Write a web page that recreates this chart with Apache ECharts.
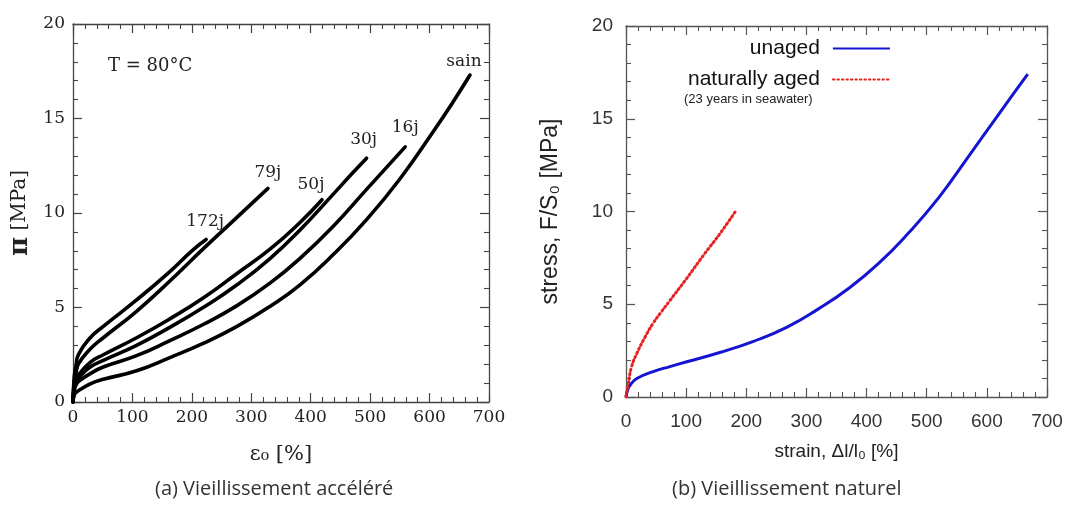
<!DOCTYPE html>
<html><head><meta charset="utf-8">
<script src="https://cdn.jsdelivr.net/npm/echarts@6/dist/echarts.min.js"></script>
<style>html,body{margin:0;padding:0;background:#fff}#c{width:1072px;height:508px}</style>
</head><body><div id="c"></div>
<script>
// ---- data (strain %, stress MPa) ----
const strainAxis = { min: 0, max: 700, interval: 100 };
const stressAxis = { min: 0, max: 20, interval: 5 };

// (a) accelerated ageing at 80°C
const curve172j = [[0,0],[2,1.3],[5,1.9],[9,2.5],[29,3.4],[51,4.0],[107,5.4],[163,6.9],[200,8.0],[224,8.6]];
const curve79j  = [[0,0],[2,1.0],[5,1.5],[9,2.0],[29,2.8],[51,3.4],[107,4.8],[163,6.4],[219,8.1],[270,9.6],[328,11.3]];
const curve50j  = [[0,0],[2,0.8],[5,1.2],[10,1.45],[29,2.1],[51,2.5],[107,3.4],[163,4.4],[219,5.5],[276,6.8],[332,8.1],[382,9.5],[419,10.7]];
const curve30j  = [[0,0],[2,0.7],[5,1.05],[10,1.3],[29,1.85],[51,2.2],[107,3.0],[163,3.95],[219,5.0],[276,6.2],[332,7.6],[382,9.1],[438,11.0],[470,12.1],[494,12.9]];
const curve16j  = [[0,0],[2,0.6],[5,0.9],[10,1.1],[29,1.5],[51,1.85],[107,2.45],[163,3.25],[219,4.1],[276,5.1],[332,6.3],[382,7.6],[438,9.3],[494,11.25],[559,13.5]];
const curveSain = [[0,0],[2,0.35],[5,0.5],[10,0.62],[29,0.96],[51,1.2],[107,1.65],[163,2.35],[219,3.1],[276,4.0],[332,5.07],[382,6.2],[438,7.8],[494,9.65],[550,11.8],[606,14.3],[640,15.9],[668,17.3]];
const curveNamesA = ['172j','79j','50j','30j','16j','sain'];

// (b) natural ageing
const unaged = [[0,0],[3,0.4],[7,0.65],[18,1.0],[45,1.37],[73,1.64],[101,1.9],[156,2.4],[212,3.0],[267,3.75],[320,4.75],[370,5.85],[420,7.2],[470,8.85],[520,10.75],[567,12.85],[622,15.35],[668,17.4]];
const naturallyAged = [[0,0],[4,0.74],[9,1.6],[18,2.35],[32,3.25],[45,3.97],[59,4.6],[73,5.2],[101,6.4],[129,7.65],[156,8.8],[184,10.1]];

// ---- chart ----
const chart = echarts.init(document.getElementById('c'));
const serif = 'DejaVu Serif';
const sans = 'Liberation Sans';

function frameAxis(dim, gridIndex, pos, range, color, showLabel, labelStyle) {
  return {
    type: 'value', gridIndex, position: pos,
    min: range.min, max: range.max, interval: range.interval,
    axisLine: { show: true, onZero: false, lineStyle: { color, width: 1.3 } },
    axisTick: { show: true, inside: true, length: 9, lineStyle: { color, width: 1.2 } },
    minorTick: { show: true, splitNumber: 5, length: 5, lineStyle: { color, width: 1.1 } },
    splitLine: { show: false },
    axisLabel: Object.assign({ show: showLabel }, labelStyle || {})
  };
}

const leftLab = { fontFamily: serif, fontSize: 17, color: '#222' };
const rightLab = { fontFamily: sans, fontSize: 19, color: '#333' };

const xAxes = [
  Object.assign(frameAxis('x', 0, 'bottom', strainAxis, '#444', true, Object.assign({ margin: 7 }, leftLab)), {
    name: 'ε₀ [%]', nameLocation: 'middle', nameGap: 42,
    nameTextStyle: { fontFamily: serif, fontSize: 21, color: '#222' }
  }),
  frameAxis('x', 0, 'top', strainAxis, '#444', false),
  Object.assign(frameAxis('x', 1, 'bottom', strainAxis, '#555', true, Object.assign({ margin: 15 }, rightLab)), {
    name: 'strain, Δl/l₀ [%]', nameLocation: 'middle', nameGap: 45,
    nameTextStyle: { fontFamily: sans, fontSize: 19, color: '#222' }
  }),
  frameAxis('x', 1, 'top', strainAxis, '#555', false)
];
const yAxes = [
  Object.assign(frameAxis('y', 0, 'left', stressAxis, '#444', true, Object.assign({ margin: 8 }, leftLab)), {
    name: '{pi|π} [MPa]', nameLocation: 'middle', nameGap: 40, nameRotate: 90,
    nameTextStyle: { fontFamily: serif, fontSize: 20, color: '#222',
      rich: { pi: { fontFamily: serif, fontSize: 26, fontWeight: 'bold', color: '#222' } } }
  }),
  frameAxis('y', 0, 'right', stressAxis, '#444', false),
  Object.assign(frameAxis('y', 1, 'left', stressAxis, '#555', true, Object.assign({ margin: 13 }, rightLab)), {
    name: 'stress, F/S₀ [MPa]', nameLocation: 'middle', nameGap: 64, nameRotate: 90,
    nameTextStyle: { fontFamily: sans, fontSize: 23, color: '#222' }
  }),
  frameAxis('y', 1, 'right', stressAxis, '#555', false)
];

const labelOffsets = { '172j': [-1, -18], '79j': [0, -16], '50j': [-11, -15], '30j': [-3, -19], '16j': [0, -19], 'sain': [-6, -13] };
const curvesA = [curve172j, curve79j, curve50j, curve30j, curve16j, curveSain];
const seriesA = curvesA.map((d, i) => ({
  name: curveNamesA[i], type: 'line', xAxisIndex: 0, yAxisIndex: 0,
  data: d, symbol: 'none', smooth: 0.5,
  lineStyle: { color: '#000', width: 3.6, cap: 'round' },
  endLabel: { show: true, formatter: '{a}', fontFamily: serif, fontSize: 17, color: '#222',
    align: 'center', verticalAlign: 'middle', distance: 0, offset: labelOffsets[curveNamesA[i]] },
  emphasis: { disabled: true }, animation: false
}));

const seriesB = [
  { name: 'unaged', type: 'line', xAxisIndex: 2, yAxisIndex: 2, data: unaged, symbol: 'none',
    smooth: 0.5, lineStyle: { color: '#1414d2', width: 3 },
    itemStyle: { color: '#1414d2' }, emphasis: { disabled: true }, animation: false },
  { name: 'naturally aged', type: 'line', xAxisIndex: 2, yAxisIndex: 2, data: naturallyAged, symbol: 'none',
    smooth: 0.5, lineStyle: { color: '#e52222', width: 3, type: [1.5, 3], cap: 'round' },
    itemStyle: { color: '#e52222' }, emphasis: { disabled: true }, animation: false }
];

chart.setOption({
  animation: false,
  grid: [
    { left: 73, top: 24, width: 416, height: 378 },
    { left: 626, top: 26, width: 421, height: 371 }
  ],
  xAxis: xAxes,
  yAxis: yAxes,
  legend: {
    data: ['unaged', 'naturally aged'], orient: 'vertical', align: 'right',
    left: 683, top: 33, itemWidth: 57, itemHeight: 12, itemGap: 10,
    itemStyle: { opacity: 0 },
    textStyle: { fontFamily: sans, fontSize: 21, color: '#111', padding: [0, 8, 0, 0] },
    selectedMode: false
  },
  series: seriesA.concat(seriesB),
  graphic: [
    { type: 'text', left: 108, top: 57, style: { text: 'T = 80°C', fontFamily: serif, fontSize: 18, fill: '#222' } },
    { type: 'text', left: 684, top: 93, style: { text: '(23 years in seawater)', fontFamily: sans, fontSize: 13, fill: '#222' } },
    { type: 'text', left: 155, top: 479, style: { text: '(a) Vieillissement accéléré', fontFamily: 'Open Sans', fontSize: 20, fill: '#333' } },
    { type: 'text', left: 672, top: 479, style: { text: '(b) Vieillissement naturel', fontFamily: 'Open Sans', fontSize: 20, fill: '#333' } }
  ]
});
</script>
</body></html>
